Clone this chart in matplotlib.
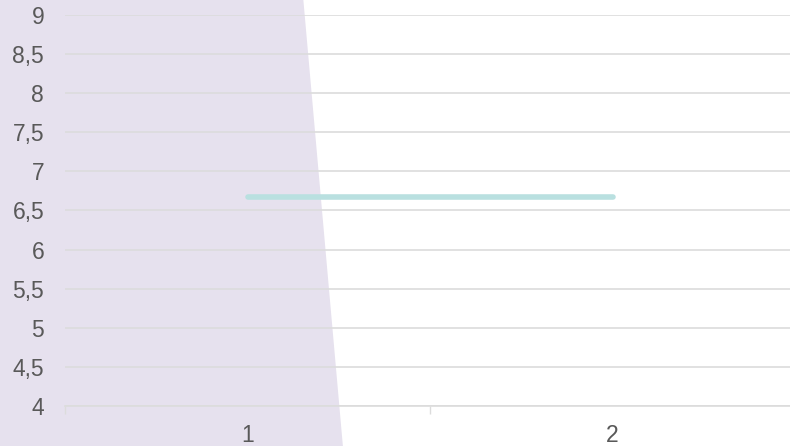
import numpy as np
import matplotlib
matplotlib.use("Agg")
import matplotlib.pyplot as plt

plt.rcParams["font.family"] = ["Liberation Sans", "DejaVu Sans"]

# data
categories = ["1", "2"]
line_values = [6.67, 6.67]
# shaded band: right edge of the area (value -> position along category axis)
band_y = [3.4, 9.3]
band_x_edge = [1.263, 1.151]
y_ticks = np.arange(4, 9.01, 0.5)

fig = plt.figure(figsize=(7.9, 4.46), dpi=100)
ax = fig.add_axes([65 / 790, 40 / 446, 730 / 790, 391 / 446])
ax.set_facecolor("none")

x = np.arange(1, len(categories) + 1)

ax.fill_betweenx(band_y, 0.0, band_x_edge, color="#e6e1ee", lw=0,
                 clip_on=False, zorder=0)
ax.plot(x, line_values, color="#b9e0e0", lw=4, solid_capstyle="round",
        zorder=3)

ax.set_xlim(0.5, 2.5)
ax.set_ylim(4, 9)
ax.set_yticks(y_ticks)
ax.set_yticklabels([f"{v:g}".replace(".", ",") for v in y_ticks])
ax.set_xticks(x)
ax.set_xticklabels(categories)
ax.set_xticks([0.5, 1.5, 2.5], minor=True)

ax.grid(axis="y", color="#dcdcdc", lw=1.2, zorder=0.5)
ax.set_axisbelow(True)
for side in ["top", "right", "left"]:
    ax.spines[side].set_visible(False)
ax.spines["bottom"].set_color("#dcdcdc")
ax.spines["bottom"].set_linewidth(1.2)

ax.tick_params(axis="y", length=0, pad=15, labelsize=16.5, labelcolor="#595959")
ax.tick_params(axis="x", which="major", length=0, pad=13, labelsize=16.5,
               labelcolor="#595959")
ax.tick_params(axis="x", which="minor", length=6, color="#dcdcdc", width=1)

fig.savefig("out.png", dpi=100)
